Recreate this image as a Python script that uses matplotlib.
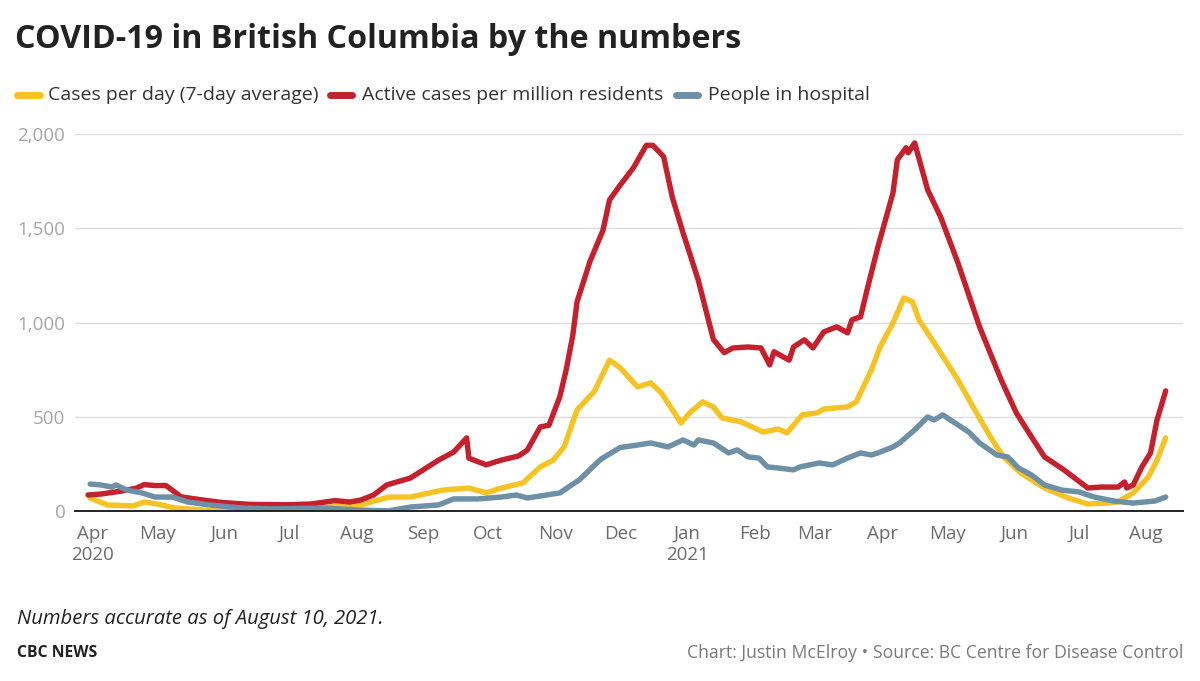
import matplotlib
matplotlib.use("Agg")
import matplotlib.pyplot as plt
from matplotlib.lines import Line2D
import pandas as pd

# ---------------- data ----------------
red_dates = ["2020-03-30","2020-04-05","2020-04-14","2020-04-21","2020-04-25","2020-04-30","2020-05-05",
    "2020-05-08","2020-05-12","2020-05-21","2020-05-31","2020-06-13","2020-06-30","2020-07-11","2020-07-22",
    "2020-07-29","2020-08-03","2020-08-09","2020-08-15","2020-08-26","2020-09-08","2020-09-15","2020-09-21",
    "2020-09-22","2020-09-30","2020-10-07","2020-10-15","2020-10-19","2020-10-25","2020-10-29","2020-11-03",
    "2020-11-06","2020-11-09","2020-11-11","2020-11-17","2020-11-23","2020-11-26","2020-12-01","2020-12-07",
    "2020-12-13","2020-12-16","2020-12-21","2020-12-25","2020-12-30","2021-01-06","2021-01-13","2021-01-18",
    "2021-01-22","2021-01-29","2021-02-04","2021-02-08","2021-02-10","2021-02-17","2021-02-19","2021-02-24",
    "2021-02-28","2021-03-05","2021-03-11","2021-03-16","2021-03-18","2021-03-22","2021-03-25","2021-03-30",
    "2021-04-06","2021-04-08","2021-04-12","2021-04-13","2021-04-16","2021-04-22","2021-04-28","2021-05-06",
    "2021-05-16","2021-05-26","2021-06-02","2021-06-09","2021-06-15","2021-06-24","2021-07-05","2021-07-11",
    "2021-07-19","2021-07-22","2021-07-23","2021-07-26","2021-07-30","2021-08-03","2021-08-06","2021-08-10"]
red_values = [85,90,105,120,140,135,135,110,75,60,45,35,33,37,55,48,58,85,138,175,270,313,388,280,245,270,
    292,323,446,455,605,750,930,1110,1325,1490,1650,1730,1820,1940,1940,1880,1665,1475,1225,910,840,865,870,
    865,775,845,800,870,908,865,950,977,945,1014,1030,1173,1400,1688,1863,1927,1900,1953,1704,1560,1316,977,
    695,520,393,287,218,122,127,127,154,122,138,234,308,483,637]

yellow_dates = ["2020-03-31","2020-04-08","2020-04-20","2020-04-25","2020-05-01","2020-05-09","2020-05-25",
    "2020-06-20","2020-07-13","2020-07-28","2020-08-03","2020-08-07","2020-08-16","2020-08-26","2020-09-10",
    "2020-09-22","2020-09-30","2020-10-07","2020-10-17","2020-10-25","2020-10-31","2020-11-05","2020-11-11",
    "2020-11-19","2020-11-26","2020-12-01","2020-12-06","2020-12-09","2020-12-15","2020-12-20","2020-12-29",
    "2021-01-02","2021-01-08","2021-01-13","2021-01-17","2021-01-26","2021-02-05","2021-02-12","2021-02-16",
    "2021-02-23","2021-03-02","2021-03-05","2021-03-16","2021-03-20","2021-03-27","2021-03-31","2021-04-06",
    "2021-04-11","2021-04-15","2021-04-18","2021-04-22","2021-04-28","2021-05-06","2021-05-13","2021-05-21",
    "2021-05-27","2021-06-04","2021-06-15","2021-06-26","2021-07-05","2021-07-14","2021-07-19","2021-07-26",
    "2021-08-02","2021-08-06","2021-08-10"]
yellow_values = [69,32,27,48,37,16,3,5,16,27,32,45,74,74,111,122,96,122,149,234,270,340,536,635,800,759,695,
    658,680,626,467,520,579,552,494,472,419,435,414,510,520,541,552,579,748,870,998,1130,1110,1014,945,839,
    695,552,393,287,202,122,69,37,42,48,96,180,270,388]

blue_dates = ["2020-03-31","2020-04-05","2020-04-10","2020-04-12","2020-04-17","2020-04-24","2020-04-30",
    "2020-05-08","2020-05-15","2020-05-25","2020-06-09","2020-06-24","2020-07-17","2020-08-02","2020-08-16",
    "2020-08-26","2020-09-08","2020-09-15","2020-09-26","2020-10-07","2020-10-14","2020-10-19","2020-10-28",
    "2020-11-03","2020-11-12","2020-11-22","2020-12-01","2020-12-09","2020-12-15","2020-12-23","2020-12-30",
    "2021-01-04","2021-01-06","2021-01-13","2021-01-20","2021-01-24","2021-01-29","2021-02-03","2021-02-07",
    "2021-02-12","2021-02-19","2021-02-22","2021-03-03","2021-03-09","2021-03-16","2021-03-22","2021-03-27",
    "2021-03-30","2021-04-06","2021-04-09","2021-04-16","2021-04-22","2021-04-25","2021-04-29","2021-05-04",
    "2021-05-11","2021-05-16","2021-05-24","2021-05-29","2021-06-03","2021-06-09","2021-06-15","2021-06-23",
    "2021-07-01","2021-07-08","2021-07-17","2021-07-26","2021-08-05","2021-08-10"]
blue_values = [143,138,127,138,111,96,74,74,48,32,16,11,16,5,1,21,32,64,64,74,85,69,85,96,165,275,337,350,
    361,340,377,350,377,361,308,324,287,281,234,228,218,234,255,244,281,308,297,308,340,361,430,499,483,510,
    472,419,361,297,287,228,191,138,111,101,74,53,42,53,74]

y_ticks = [0, 500, 1000, 1500, 2000]
y_tick_labels = ["0", "500", "1,000", "1,500", "2,000"]
month_ticks = ["2020-04-01","2020-05-01","2020-06-01","2020-07-01","2020-08-01","2020-09-01","2020-10-01",
    "2020-11-01","2020-12-01","2021-01-01","2021-02-01","2021-03-01","2021-04-01","2021-05-01","2021-06-01",
    "2021-07-01","2021-08-01"]
month_labels = ["Apr\n2020","May","Jun","Jul","Aug","Sep","Oct","Nov","Dec","Jan\n2021","Feb","Mar","Apr",
    "May","Jun","Jul","Aug"]
series_names = ["Cases per day (7-day average)", "Active cases per million residents", "People in hospital"]

YELLOW = "#f5c324"
RED = "#c4202d"
BLUE = "#6e90a6"

plt.rcParams['font.family'] = ['Open Sans', 'DejaVu Sans']

W, H = 1200, 681
fig = plt.figure(figsize=(W/100, H/100), dpi=100)
ax = fig.add_axes([75/W, (H-511)/H, (1183-75)/W, (511-134)/H])

lw = 3.9
ax.plot(pd.to_datetime(yellow_dates), yellow_values, color=YELLOW, lw=lw, solid_capstyle='round', solid_joinstyle='round', zorder=3)
ax.plot(pd.to_datetime(red_dates), red_values, color=RED, lw=lw, solid_capstyle='round', solid_joinstyle='round', zorder=4)
ax.plot(pd.to_datetime(blue_dates), blue_values, color=BLUE, lw=lw, solid_capstyle='round', solid_joinstyle='round', zorder=5)

ax.set_ylim(0, 2000)
ax.set_xlim(pd.Timestamp("2020-03-24"), pd.Timestamp("2021-08-18"))
ax.set_yticks(y_ticks)
ax.set_yticklabels(y_tick_labels)
ax.set_xticks(pd.to_datetime(month_ticks))
ax.set_xticklabels(month_labels)
ax.tick_params(axis='both', length=0)
ax.tick_params(axis='y', labelsize=13.5, labelcolor="#a6a6a6", pad=7)
ax.tick_params(axis='x', labelsize=13.5, labelcolor="#6b6b6b", pad=10)
for lab in ax.get_xticklabels():
    lab.set_linespacing(1.2)
    lab.set_multialignment('center')
ax.grid(axis='y', color="#dddddd", lw=1)
ax.grid(axis='x', visible=False)
ax.set_axisbelow(True)
for s in ['top', 'right', 'left']:
    ax.spines[s].set_visible(False)
ax.spines['bottom'].set_color("#222222")
ax.spines['bottom'].set_linewidth(1.4)
ax.spines['bottom'].set_zorder(6)

# title
fig.text(15/W, 1-40/H, "COVID-19 in British Columbia by the numbers",
         fontsize=23.2, fontweight='bold', color="#222222", va='center', ha='left')

# legend
leg_y = 1 - 95/H
entries = [(17, 40, 48, YELLOW), (330, 352, 362, RED), (676, 698, 708, BLUE)]
for (x0, x1, tx, c), name in zip(entries, series_names):
    fig.add_artist(Line2D([x0/W, x1/W], [leg_y, leg_y], transform=fig.transFigure,
                          color=c, lw=5, solid_capstyle='round'))
    fig.text(tx/W, leg_y, name, fontsize=14, color="#333333", va='center', ha='left')

# footer
fig.text(17/W, 1-619/H, "Numbers accurate as of August 10, 2021.", fontsize=14.6, style='italic',
         color="#222222", va='center', ha='left')
fig.text(17/W, 1-653/H, "CBC NEWS", fontsize=11.3, fontweight='bold', color="#222222", va='center', ha='left')
fig.text(1183/W, 1-653/H, "Chart: Justin McElroy \u2022 Source: BC Centre for Disease Control", fontsize=12.7,
         color="#7a7a7a", va='center', ha='right')

fig.savefig("out.png", dpi=100, facecolor='white')
